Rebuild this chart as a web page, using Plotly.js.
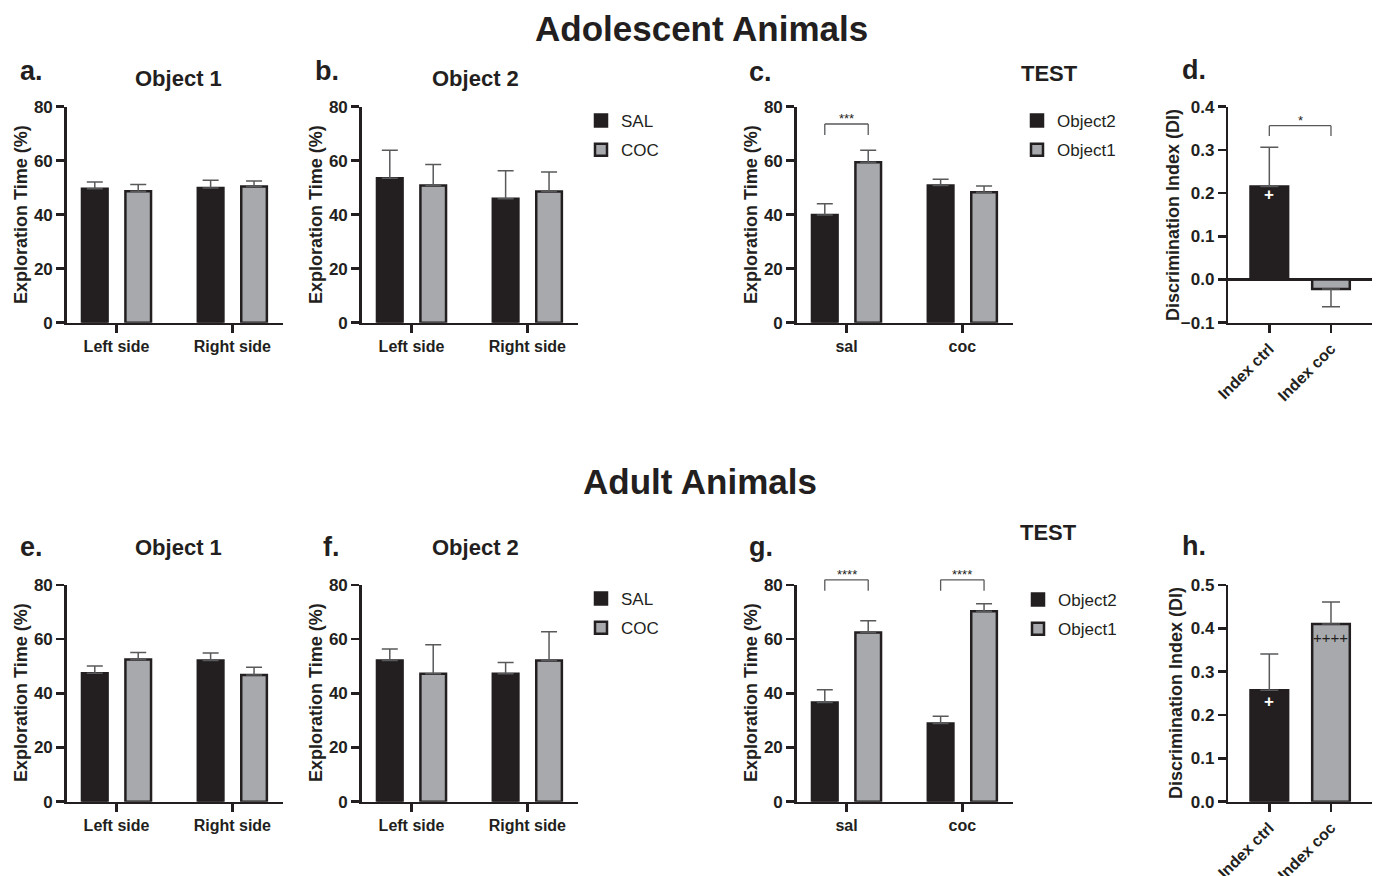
<!DOCTYPE html>
<html><head><meta charset="utf-8">
<script src="https://cdn.plot.ly/plotly-3.0.1.min.js"></script>
<style>html,body{margin:0;padding:0;background:#fff}#chart{width:1379px;height:876px}</style>
</head><body><div id="chart"></div>
<script>
// ---------- categories ----------
const sideCats  = ['Left side', 'Right side'];
const groupCats = ['sal', 'coc'];
const indexCats = ['Index ctrl', 'Index coc'];

// ---------- Adolescent animals ----------
const adoObj1SAL = [49.6, 49.9];  const adoObj1SALerr = [2.5, 2.9];
const adoObj1COC = [48.7, 50.4];  const adoObj1COCerr = [2.5, 2.1];
const adoObj2SAL = [53.5, 45.9];  const adoObj2SALerr = [10.4, 10.4];
const adoObj2COC = [50.8, 48.6];  const adoObj2COCerr = [7.8, 7.2];
const adoTestObj2 = [39.9, 50.8]; const adoTestObj2err = [4.2, 2.3];
const adoTestObj1 = [59.4, 48.3]; const adoTestObj1err = [4.5, 2.3];
const adoDI = [0.215, -0.022];    const adoDIerr = [0.091, 0.041];

// ---------- Adult animals ----------
const adObj1SAL = [47.4, 52.1];   const adObj1SALerr = [2.7, 2.8];
const adObj1COC = [52.5, 46.8];   const adObj1COCerr = [2.6, 2.8];
const adObj2SAL = [52.1, 47.2];   const adObj2SALerr = [4.3, 4.2];
const adObj2COC = [47.2, 52.1];   const adObj2COCerr = [10.7, 10.6];
const adTestObj2 = [36.6, 28.9];  const adTestObj2err = [4.7, 2.6];
const adTestObj1 = [62.5, 70.3];  const adTestObj1err = [4.3, 2.8];
const adDI = [0.257, 0.410];      const adDIerr = [0.084, 0.051];

// ---------- significance annotations (values in data units) ----------
const sigC = [{from: 0, top: 73.6, leg: 69.5, text: '***'}];
const sigG = [{from: 0, top: 81.9, leg: 77.9, text: '****'}, {from: 1, top: 81.9, leg: 77.9, text: '****'}];
const sigD = [{top: 0.356, leg: 0.332, text: '*'}];

// ---------- styling ----------
const INK = '#231f20', BLACK = '#231f20', GREY = '#a7a9ac', ERR = '#58595b';
const FONT = 'Liberation Sans, Arial, Helvetica, sans-serif';
const BARGAP = 0.25, BARGROUPGAP = 0.41;
const W = 1379, H = 876;
const px = x => x / W, py = y => 1 - y / H;

function barTrace(xa, ya, cats, vals, errs, color, name, legend, showlegend) {
  return {
    type: 'bar', x: cats, y: vals, xaxis: xa, yaxis: ya, name: name,
    legend: legend, legendgroup: legend + name, showlegend: showlegend, hoverinfo: 'skip',
    marker: {color: color, line: {color: INK, width: 2.5}},
    error_y: {type: 'data', symmetric: false,
      array: vals.map((v, i) => v >= 0 ? errs[i] : 0),
      arrayminus: vals.map((v, i) => v < 0 ? errs[i] : 0),
      color: ERR, thickness: 1.5, width: 8}
  };
}
function diTrace(xa, ya, vals, errs) {
  const t = barTrace(xa, ya, indexCats, vals, errs, [BLACK, GREY], 'DI', 'legend', false);
  t.width = 0.61; t.error_y.width = 9;
  return t;
}

const traces = [
  barTrace('x', 'y', sideCats, adoObj1SAL, adoObj1SALerr, BLACK, 'SAL', 'legend', false),
  barTrace('x', 'y', sideCats, adoObj1COC, adoObj1COCerr, GREY, 'COC', 'legend', false),
  barTrace('x2', 'y2', sideCats, adoObj2SAL, adoObj2SALerr, BLACK, 'SAL', 'legend', true),
  barTrace('x2', 'y2', sideCats, adoObj2COC, adoObj2COCerr, GREY, 'COC', 'legend', true),
  barTrace('x3', 'y3', groupCats, adoTestObj2, adoTestObj2err, BLACK, 'Object2', 'legend2', true),
  barTrace('x3', 'y3', groupCats, adoTestObj1, adoTestObj1err, GREY, 'Object1', 'legend2', true),
  diTrace('x4', 'y4', adoDI, adoDIerr),
  barTrace('x5', 'y5', sideCats, adObj1SAL, adObj1SALerr, BLACK, 'SAL', 'legend3', false),
  barTrace('x5', 'y5', sideCats, adObj1COC, adObj1COCerr, GREY, 'COC', 'legend3', false),
  barTrace('x6', 'y6', sideCats, adObj2SAL, adObj2SALerr, BLACK, 'SAL', 'legend3', true),
  barTrace('x6', 'y6', sideCats, adObj2COC, adObj2COCerr, GREY, 'COC', 'legend3', true),
  barTrace('x7', 'y7', groupCats, adTestObj2, adTestObj2err, BLACK, 'Object2', 'legend4', true),
  barTrace('x7', 'y7', groupCats, adTestObj1, adTestObj1err, GREY, 'Object1', 'legend4', true),
  diTrace('x8', 'y8', adDI, adDIerr)
];

// domains
const xDom = [[px(66.7), px(283.3)], [px(361.7), px(578.3)], [px(796.7), px(1013.3)], [px(1228.3), px(1371.7)]];
const yTop = [py(322.7), py(106.7)], yBot = [py(801.7), py(585)];

function xAxis(n, dom, cats, range, angle) {
  return {domain: dom, anchor: 'y' + (n > 1 ? n : ''), type: 'category', categoryarray: cats,
    range: range, showline: true, linecolor: INK, linewidth: 2.5, ticks: 'outside', ticklen: 8,
    tickwidth: 2.5, tickcolor: INK, tickangle: angle, showgrid: false, zeroline: false, fixedrange: true,
    tickfont: {family: FONT, size: 16, weight: 'bold', color: INK}};
}
function yAxis(n, dom, range, dtick, fmt, zl) {
  return {domain: dom, anchor: 'x' + (n > 1 ? n : ''), range: range, dtick: dtick, tickformat: fmt,
    showline: true, linecolor: INK, linewidth: 2.5, ticks: 'outside', ticklen: 8, tickwidth: 2.5,
    tickcolor: INK, showgrid: false, zeroline: zl, zerolinecolor: INK, zerolinewidth: 2.5, fixedrange: true,
    tickfont: {family: FONT, size: 17, weight: 'bold', color: INK}};
}
const sideRange = [-0.43, 1.44], diRange = [-0.665, 1.66];

function legendAt(x, y) {
  return {x: px(x), y: py(y), xanchor: 'left', yanchor: 'top', bgcolor: 'rgba(0,0,0,0)',
    traceorder: 'grouped', tracegroupgap: 4, font: {family: FONT, size: 17, color: INK}};
}

const layout = {
  width: W, height: H, margin: {l: 0, r: 0, t: 0, b: 0},
  paper_bgcolor: '#fff', plot_bgcolor: '#fff',
  font: {family: FONT, color: INK},
  barmode: 'group', bargap: BARGAP, bargroupgap: BARGROUPGAP,
  xaxis: xAxis(1, xDom[0], sideCats, sideRange, 0),
  xaxis2: xAxis(2, xDom[1], sideCats, sideRange, 0),
  xaxis3: xAxis(3, xDom[2], groupCats, sideRange, 0),
  xaxis4: xAxis(4, xDom[3], indexCats, diRange, -45),
  xaxis5: xAxis(5, xDom[0], sideCats, sideRange, 0),
  xaxis6: xAxis(6, xDom[1], sideCats, sideRange, 0),
  xaxis7: xAxis(7, xDom[2], groupCats, sideRange, 0),
  xaxis8: xAxis(8, xDom[3], indexCats, diRange, -45),
  yaxis: yAxis(1, yTop, [0, 80], 20, 'd', false),
  yaxis2: yAxis(2, yTop, [0, 80], 20, 'd', false),
  yaxis3: yAxis(3, yTop, [0, 80], 20, 'd', false),
  yaxis4: yAxis(4, yTop, [-0.1, 0.4], 0.1, '.1f', true),
  yaxis5: yAxis(5, yBot, [0, 80], 20, 'd', false),
  yaxis6: yAxis(6, yBot, [0, 80], 20, 'd', false),
  yaxis7: yAxis(7, yBot, [0, 80], 20, 'd', false),
  yaxis8: yAxis(8, yBot, [0, 0.5], 0.1, '.1f', false),
  legend:  legendAt(581, 103),
  legend2: legendAt(1017, 103),
  legend3: legendAt(581, 581),
  legend4: legendAt(1018, 582),
  shapes: [], annotations: []
};

// significance brackets
const half = (1 - BARGAP) / 4;
function toDom(v, r) { return (v - r[0]) / (r[1] - r[0]); }
function addBracket(xa, ya, x0, x1, s, r) {
  const top = toDom(s.top, r), leg = toDom(s.leg, r);
  const ln = {type: 'line', xref: xa, yref: ya + ' domain', line: {color: ERR, width: 1.3}};
  layout.shapes.push(Object.assign({}, ln, {x0: x0, x1: x1, y0: top, y1: top}));
  layout.shapes.push(Object.assign({}, ln, {x0: x0, x1: x0, y0: top, y1: leg}));
  layout.shapes.push(Object.assign({}, ln, {x0: x1, x1: x1, y0: top, y1: leg}));
  layout.annotations.push({xref: xa, yref: ya + ' domain', x: (x0 + x1) / 2, y: top, yanchor: 'bottom',
    yshift: -4, text: s.text, showarrow: false, font: {family: FONT, size: 13, color: INK}});
}
sigC.forEach(s => addBracket('x3', 'y3', s.from - half, s.from + half, s, [0, 80]));
sigG.forEach(s => addBracket('x7', 'y7', s.from - half, s.from + half, s, [0, 80]));
sigD.forEach(s => addBracket('x4', 'y4', 0, 1, s, [-0.1, 0.4]));

// plus signs on DI bars
layout.annotations.push({xref: 'x4', yref: 'y4', x: 0, y: 0.196, text: '+', showarrow: false, font: {family: FONT, size: 17, color: '#fff', weight: 'bold'}});
layout.annotations.push({xref: 'x8', yref: 'y8', x: 0, y: 0.231, text: '+', showarrow: false, font: {family: FONT, size: 17, color: '#fff', weight: 'bold'}});
layout.annotations.push({xref: 'x8', yref: 'y8', x: 1, y: 0.378, text: '++++', showarrow: false, font: {family: FONT, size: 15, color: INK}});

// titles and labels
function txt(x, y, text, size, opts) {
  layout.annotations.push(Object.assign({xref: 'paper', yref: 'paper', x: px(x), y: py(y), text: text,
    showarrow: false, xanchor: 'center', yanchor: 'middle',
    font: {family: FONT, size: size, color: INK, weight: 'bold'}}, opts || {}));
}
txt(701, 29, 'Adolescent Animals', 35);
txt(700, 481, 'Adult Animals', 35);
[['a.', 18, 71], ['b.', 313, 71], ['c.', 747, 72], ['d.', 1180, 70],
 ['e.', 18, 547], ['f.', 321, 547], ['g.', 747, 547], ['h.', 1180, 546]]
  .forEach(l => txt(l[1], l[2], l[0], 27, {xanchor: 'left'}));
txt(178, 78, 'Object 1', 22); txt(475, 78, 'Object 2', 22);
txt(178, 547, 'Object 1', 22); txt(475, 547, 'Object 2', 22);
txt(1049, 73, 'TEST', 22); txt(1048, 532, 'TEST', 22);
[[21, 215], [316, 215], [751, 215], [21, 693], [316, 693], [751, 693]]
  .forEach(p => txt(p[0], p[1], 'Exploration Time (%)', 18, {textangle: -90}));
txt(1173, 215, 'Discrimination Index (DI)', 18, {textangle: -90});
txt(1176, 693, 'Discrimination Index (DI)', 18, {textangle: -90});

Plotly.newPlot('chart', traces, layout, {displayModeBar: false, staticPlot: true});
</script>
</body></html>
